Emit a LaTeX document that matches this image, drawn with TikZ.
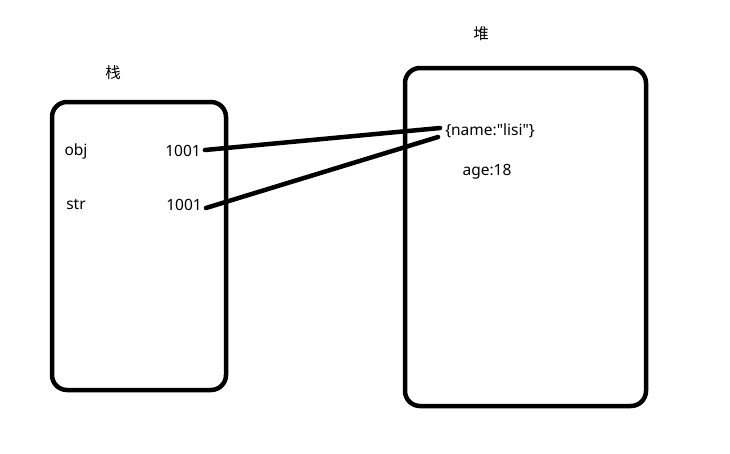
\documentclass[tikz,border=0pt]{standalone}
\usepackage{fontspec}
\setmainfont{Noto Sans}
\newfontfamily\cjk{Noto Sans CJK SC}
\begin{document}
\begin{tikzpicture}[x=1pt,y=-1pt,
    box/.style={line width=4.5pt, rounded corners=15pt},
    link/.style={line width=4.5pt, line cap=round},
    lbl/.style={font=\fontsize{15.5}{18}\selectfont, inner sep=2pt}]
    \useasboundingbox (0,0) rectangle (730,453);

    % Pila (栈)
    \draw[box] (52,102) rectangle (226,390);
    \node[lbl] (stacktitle) at (113,73) {\cjk 栈};
    \node[lbl] (objname) at (76,151) {obj};
    \node[lbl] (objval) at (183,151) {1001};
    \node[lbl] (strname) at (76,204) {str};
    \node[lbl] (strval) at (184,205) {1001};

    % Montículo (堆)
    \draw[box] (405,68) rectangle (646,406);
    \node[lbl] (heaptitle) at (481,34) {\cjk 堆};
    \node[lbl] (heapobj) at (490,131) {\{name:\textquotedbl lisi\textquotedbl\}};
    \node[lbl] (heapage) at (487,172) {age:18};

    % Referencias
    \draw[link] ([xshift=2pt,yshift=1pt]objval.east) -- ([xshift=-3pt,yshift=3pt]heapobj.west);
    \draw[link] ([xshift=2pt,yshift=-3pt]strval.east) -- ([xshift=-5pt,yshift=-6pt]heapobj.west);
\end{tikzpicture}
\end{document}
